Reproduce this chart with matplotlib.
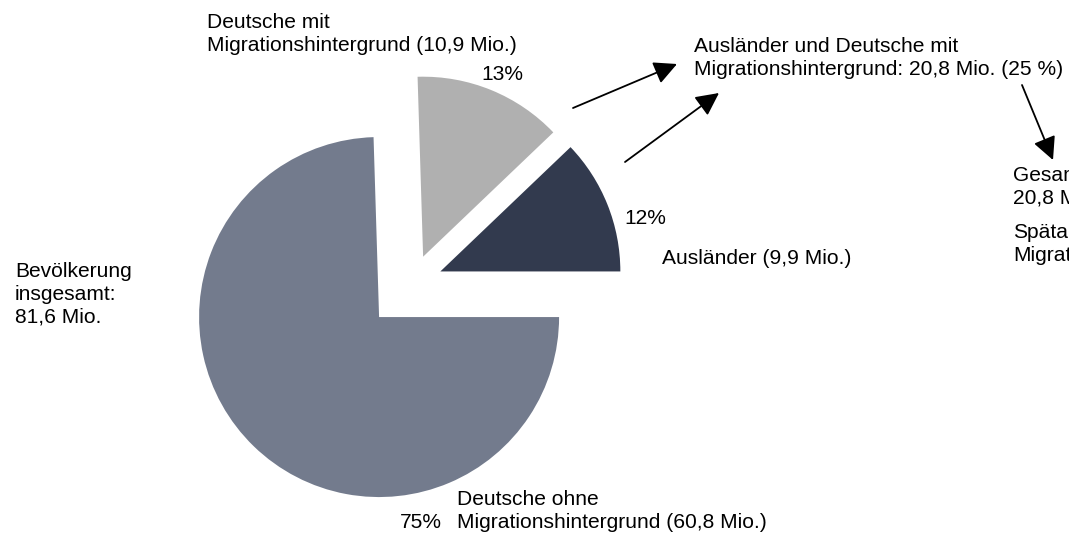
import matplotlib
matplotlib.use("Agg")
import matplotlib.pyplot as plt

# ---- data ----
categories = ["Ausländer (9,9 Mio.)",
              "Deutsche mit\nMigrationshintergrund (10,9 Mio.)",
              "Deutsche ohne\nMigrationshintergrund (60,8 Mio.)"]
values_mio = [9.9, 10.9, 60.8]
pct_labels = ["12%", "13%", "75%"]
colors = ["#323A4E", "#B0B0B0", "#737B8D"]
explode_px = [30, 28, 48]

W, H = 1069, 534
fig = plt.figure(figsize=(W / 100, H / 100), dpi=100)
ax = fig.add_axes([0, 0, 1, 1])
plt.rcParams['font.family'] = ['Liberation Sans', 'DejaVu Sans']

def P(x, y):
    return (x, H - y)

ax.pie(values_mio, colors=colors, explode=explode_px, startangle=0,
       counterclock=True, radius=180, center=P(412.5, 282.6),
       wedgeprops=dict(linewidth=0))
ax.set_xlim(0, W)
ax.set_ylim(0, H)
ax.set_aspect('equal')
ax.axis('off')

fs = 15.1
tk = dict(fontsize=fs, family=['Liberation Sans', 'DejaVu Sans'], color='black', linespacing=1.25)

# category labels
ax.text(*P(207, 13), categories[1], ha='left', va='top', **tk)
ax.text(*P(662, 258), categories[0], ha='left', va='center', **tk)
ax.text(*P(457, 490), categories[2], ha='left', va='top', **tk)
ax.text(*P(15, 262), "Bevölkerung\ninsgesamt:\n81,6 Mio.", ha='left', va='top', **tk)
ax.text(*P(694, 37), "Ausländer und Deutsche mit\nMigrationshintergrund: 20,8 Mio. (25 %)",
        ha='left', va='top', **tk)
ax.text(*P(1013, 166), "Gesamt:\n20,8 Mio.", ha='left', va='top', **tk)
ax.text(*P(1013, 223), "Spätaussiedler\nMigrationshintergrund", ha='left', va='top', **tk)

# percentage labels
ax.text(*P(502, 74), pct_labels[1], ha='center', va='center', **tk)
ax.text(*P(645, 219), pct_labels[0], ha='center', va='center', **tk)
ax.text(*P(421, 522), pct_labels[2], ha='center', va='center', **tk)

# arrows
ap = dict(arrowstyle='-|>,head_length=0.7,head_width=0.35', mutation_scale=20,
          color='black', lw=1.3, shrinkA=0, shrinkB=0)
for tail, head in [((573, 108), (677, 64)),
                   ((625, 162), (719, 93)),
                   ((1022, 85), (1053, 160))]:
    ax.annotate("", xy=P(*head), xytext=P(*tail), arrowprops=ap)

fig.savefig("out.png", dpi=100)
